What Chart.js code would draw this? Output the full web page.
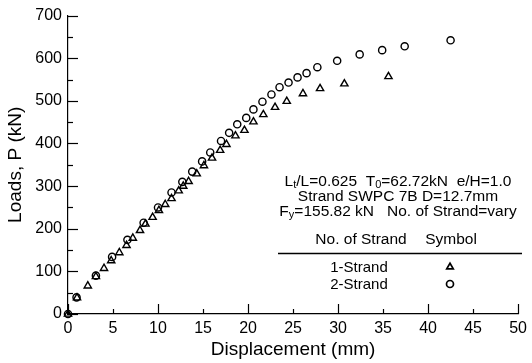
<!DOCTYPE html>
<html><head><meta charset="utf-8">
<script src="https://cdn.jsdelivr.net/npm/chart.js@4/dist/chart.umd.min.js"></script>
<style>html,body{margin:0;padding:0;background:#fff}#wrap{width:532px;height:363px}</style>
</head><body><div id="wrap"><canvas id="c" width="532" height="363"></canvas></div>
<script>
// 1-Strand (triangles)
const strand1X = [0, 1.0, 2.2, 3.1, 4.0, 4.8, 5.7, 6.5, 7.2, 8.0, 8.6, 9.4, 10.1, 10.8, 11.5, 12.3, 12.8, 13.4, 14.3, 15.1, 16.0, 16.9, 17.6, 18.6, 19.6, 20.6, 21.7, 23.0, 24.3, 26.1, 28.0, 30.7, 35.6];
const strand1Y = [0, 38, 66, 88, 107, 125, 144, 161, 178, 196, 211, 227, 243, 257, 271, 289, 300, 311, 329, 348, 366, 384, 398, 418, 431, 451, 468, 485, 499, 517, 529, 540, 557];
// 2-Strand (circles)
const strand2X = [0, 0.95, 3.1, 4.9, 6.6, 8.4, 10.0, 11.5, 12.7, 13.8, 14.9, 15.8, 17.0, 17.9, 18.8, 19.8, 20.6, 21.6, 22.6, 23.5, 24.5, 25.5, 26.5, 27.7, 29.9, 32.4, 34.9, 37.4, 42.5];
const strand2Y = [0, 39, 90, 134, 174, 214, 250, 285, 310, 334, 358, 379, 406, 425, 445, 460, 480, 498, 515, 532, 543, 555, 565, 579, 594, 609, 619, 628, 642];

const xTickValues = [0, 5, 10, 15, 20, 25, 30, 35, 40, 45, 50];
const yTickValues = [0, 50, 100, 150, 200, 250, 300, 350, 400, 450, 500, 550, 600, 650, 700];
const xMajorStep = 10;
const yMajorStep = 100;

const seriesNames = ['1-Strand', '2-Strand'];
const infoLines = [
  [['L', 0], ['t', 1], ['/L=0.625', 0], [' ', 2], ['T', 0], ['0', 1], ['=62.72kN', 0], [' ', 2], ['e/H=1.0', 0]],
  [['Strand SWPC 7B D=12.7mm', 0]],
  [['F', 0], ['y', 1], ['=155.82 kN', 0], [' ', 3], ['No. of Strand=vary', 0]]
];
const headerText = ['No. of Strand', 'Symbol'];

const FONT = '"Liberation Sans", Arial, Helvetica, sans-serif';

const toPts = (xs, ys) => xs.map((x, i) => ({x: x, y: ys[i]}));

const annotPlugin = {
  id: 'annot',
  afterDraw(chart) {
    const ctx = chart.ctx;
    const {x: xs, y: ys} = chart.scales;
    ctx.save();
    // inward ticks
    ctx.strokeStyle = '#000';
    ctx.lineWidth = 1.2;
    xTickValues.forEach(v => {
      const px = Math.round(xs.getPixelForValue(v)) + 0.5;
      const len = (v % xMajorStep === 0) ? 10 : 5;
      ctx.beginPath(); ctx.moveTo(px, ys.bottom); ctx.lineTo(px, ys.bottom - len); ctx.stroke();
    });
    yTickValues.forEach(v => {
      const py = Math.round(ys.getPixelForValue(v)) + 0.5;
      const len = (v % yMajorStep === 0) ? 10 : 5;
      ctx.beginPath(); ctx.moveTo(xs.left, py); ctx.lineTo(xs.left + len, py); ctx.stroke();
    });

    // info text with subscripts
    const mainF = '15.5px ' + FONT;
    const subF = '11px ' + FONT;
    ctx.fillStyle = '#000';
    ctx.textBaseline = 'middle';
    ctx.textAlign = 'left';
    const cx = 398;
    const lineYs = [182, 197, 212];
    ctx.font = mainF;
    const spaceW = ctx.measureText(' ').width;
    infoLines.forEach((segs, li) => {
      let w = 0;
      segs.forEach(([t, k]) => {
        if (k >= 2) { w += spaceW * k; return; }
        ctx.font = k === 1 ? subF : mainF;
        w += ctx.measureText(t).width;
      });
      let x = cx - w / 2;
      const y = lineYs[li];
      segs.forEach(([t, k]) => {
        if (k >= 2) { x += spaceW * k; return; }
        ctx.font = k === 1 ? subF : mainF;
        ctx.fillText(t, x, k === 1 ? y + 3 : y);
        x += ctx.measureText(t).width;
      });
    });

    // table header
    ctx.font = mainF;
    ctx.textAlign = 'center';
    ctx.fillText(headerText[0], 361, 240);
    ctx.fillText(headerText[1], 451, 240);
    ctx.beginPath(); ctx.lineWidth = 1.3;
    ctx.moveTo(278, 253.5); ctx.lineTo(522, 253.5); ctx.stroke();
    ctx.font = '15px ' + FONT;
    ctx.fillText(seriesNames[0], 359, 268);
    ctx.fillText(seriesNames[1], 359, 285);
    // symbols
    ctx.lineWidth = 1.7;
    const r = 3.8;
    ctx.beginPath();
    ctx.moveTo(450, 267 - r); ctx.lineTo(450 + r * 0.866, 267 + r / 2); ctx.lineTo(450 - r * 0.866, 267 + r / 2); ctx.closePath(); ctx.stroke();
    ctx.beginPath(); ctx.arc(450, 284, 3.5, 0, Math.PI * 2); ctx.stroke();
    ctx.restore();
  }
};

new Chart(document.getElementById('c'), {
  type: 'scatter',
  data: {
    datasets: [
      {label: seriesNames[0], data: toPts(strand1X, strand1Y), pointStyle: 'triangle', pointRadius: 4.2, pointBorderWidth: 1.4,
       borderColor: '#000', backgroundColor: 'rgba(0,0,0,0)', showLine: false, clip: false},
      {label: seriesNames[1], data: toPts(strand2X, strand2Y), pointStyle: 'circle', pointRadius: 3.6, pointBorderWidth: 1.4,
       borderColor: '#000', backgroundColor: 'rgba(0,0,0,0)', showLine: false, clip: false}
    ]
  },
  options: {
    responsive: false,
    animation: false,
    devicePixelRatio: 1,
    layout: {padding: {top: 14, right: 10, left: 0, bottom: 0}},
    plugins: {legend: {display: false}, tooltip: {enabled: false}},
    scales: {
      x: {
        type: 'linear', min: 0, max: 50,
        afterFit: s => { s.height = 49; },
        afterBuildTicks: s => { s.ticks = xTickValues.map(v => ({value: v})); },
        grid: {display: false, drawTicks: false},
        border: {display: true, color: '#000', width: 1.2},
        ticks: {padding: 5, color: '#000', font: {family: FONT, size: 16}, maxRotation: 0, autoSkip: false},
        title: {display: true, text: 'Displacement (mm)', color: '#000', font: {family: FONT, size: 19}, padding: {top: 0, bottom: 2}}
      },
      y: {
        type: 'linear', min: 0, max: 700,
        afterFit: s => { s.width = 68; },
        afterBuildTicks: s => { s.ticks = yTickValues.filter(v => v % yMajorStep === 0).map(v => ({value: v})); },
        grid: {display: false, drawTicks: false},
        border: {display: true, color: '#000', width: 1.2},
        ticks: {padding: 6, color: '#000', font: {family: FONT, size: 16}, autoSkip: false},
        title: {display: true, text: 'Loads, P (kN)', color: '#000', font: {family: FONT, size: 19}, padding: {top: 4, bottom: 0}}
      }
    }
  },
  plugins: [annotPlugin]
});
</script>
</body></html>
